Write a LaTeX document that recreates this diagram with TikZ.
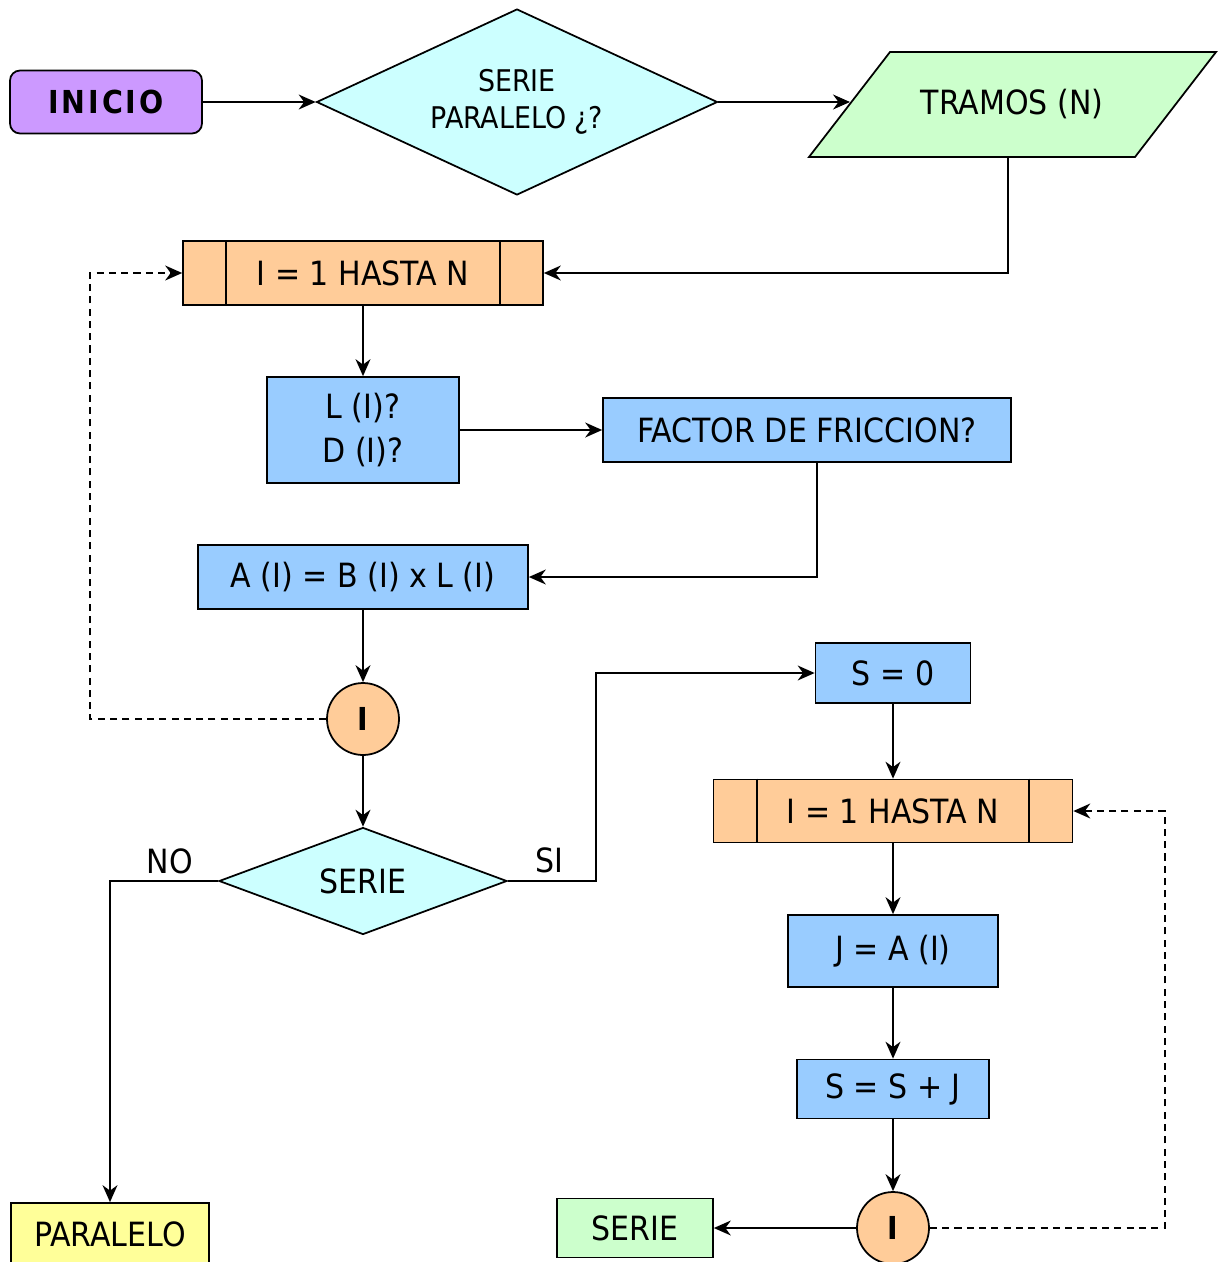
\documentclass[tikz,border=0pt]{standalone}
\usepackage{fontspec}
\setmainfont{DejaVu Sans Condensed}
\usetikzlibrary{arrows.meta,shapes.geometric}

\definecolor{lila}{HTML}{CC99FF}
\definecolor{celeste}{HTML}{CCFFFF}
\definecolor{verde}{HTML}{CCFFCC}
\definecolor{naranja}{HTML}{FFCC99}
\definecolor{azul}{HTML}{99CCFF}
\definecolor{amarillo}{HTML}{FFFF99}

\tikzset{
    base/.style={draw, line width=1pt, inner sep=0pt, font=\fontsize{19}{23}\selectfont},
    caja/.style={base, rectangle, fill=azul, align=center},
    lazo/.style={base, rectangle, fill=naranja},
    decision/.style={base, diamond, aspect=2.2, fill=celeste, align=center},
    conector/.style={base, circle, fill=naranja, minimum size=1.44cm, font=\fontsize{18}{22}\selectfont\bfseries},
    flecha/.style={line width=0.8pt, -{Stealth[length=3.4mm,width=3mm,inset=1.1mm]}},
    punteada/.style={flecha, dashed, dash pattern=on 4pt off 3pt},
    etiqueta/.style={font=\fontsize{19}{23}\selectfont}
}

\begin{document}
\begin{tikzpicture}[x=0.02cm,y=-0.02cm]
    \useasboundingbox (0,0) rectangle (1219,1262);

    %% Entrada
    \node[base, rounded corners=2mm, fill=lila, minimum width=3.84cm, minimum height=1.26cm,
          font=\fontsize{18}{22}\selectfont\bfseries\addfontfeature{LetterSpace=9}]
        (inicio) at (106,102) {INICIO};
    \node[decision, minimum width=8.02cm, minimum height=3.72cm, font=\fontsize{17}{21}\selectfont]
        (tipo) at (517,102) {SERIE\\PARALELO ¿?};
    %% dato de entrada (paralelogramo)
    \draw[line width=1pt, fill=verde]
    (809,157) to (890,52) to (1216,52) to (1135,157) -- cycle
    ;
    \node[font=\fontsize{19}{23}\selectfont, minimum height=2.1cm] (tramos) at (1012,104) {TRAMOS (N)};
    \coordinate (tramosw) at (850,102);

    %% Primer lazo
    \node[lazo, minimum width=7.2cm, minimum height=1.28cm] (lazo1) at (363,273) {I = 1 HASTA N};
    \node[caja, minimum width=3.84cm, minimum height=2.12cm] (datos) at (363,430) {L (I)?\\[2pt]D (I)?};
    \node[caja, minimum width=8.16cm, minimum height=1.28cm] (friccion) at (807,430) {FACTOR DE FRICCION?};
    \node[caja, minimum width=6.6cm, minimum height=1.28cm] (area) at (363,577) {A (I) = B (I) x L (I)};
    \node[conector] (fin1) at (363,719) {I};
    \node[decision, minimum width=5.76cm, minimum height=2.14cm] (serie) at (363,881) {SERIE};

    %% Segundo lazo
    \node[caja, minimum width=3.1cm, minimum height=1.2cm] (suma0) at (893,673) {S = 0};
    \node[lazo, minimum width=7.18cm, minimum height=1.26cm] (lazo2) at (893,811) {I = 1 HASTA N};
    \node[caja, minimum width=4.2cm, minimum height=1.44cm] (jota) at (893,951) {J = A (I)};
    \node[caja, minimum width=3.84cm, minimum height=1.18cm] (suma) at (893,1089) {S = S + J};
    \node[conector] (fin2) at (893,1228) {I};

    %% Salidas
    \node[base, fill=verde, minimum width=3.12cm, minimum height=1.18cm] (resserie) at (635,1228) {SERIE};
    \node[base, fill=amarillo, minimum width=3.96cm, minimum height=1.24cm] (resparalelo) at (110,1234) {PARALELO};

    %% marcas de los lazos
    \foreach \l in {lazo1,lazo2}
    {
    \draw[line width=1pt]
    ([xshift=0.88cm]\l.north west) to ([xshift=0.88cm]\l.south west)
    ([xshift=-0.88cm]\l.north east) to ([xshift=-0.88cm]\l.south east)
    ;
    }

    \coordinate (ret1) at (90,0);
    \coordinate (desvio) at (596,0);
    \coordinate (ret2) at (1165,0);

    %% Conexiones
    \draw[flecha] (inicio.east) to (tipo.west);
    \draw[flecha] (tipo.east) to (tramosw);
    \draw[flecha] ([xshift=-0.08cm]tramos.south) |- (lazo1.east);
    \draw[flecha] (lazo1) to (datos);
    \draw[flecha] (datos) to (friccion);
    \draw[flecha] ([xshift=0.2cm]friccion.south) |- (area.east);
    \draw[flecha] (area) to (fin1);
    \draw[punteada] (fin1.west) to (fin1.west -| ret1) |- (lazo1.west);
    \draw[flecha] (fin1) to (serie);
    \draw[flecha] (serie.west) -| (resparalelo.north);
    \draw[flecha] (serie.east) to (serie.east -| desvio) |- (suma0.west);
    \draw[flecha] (suma0) to (lazo2);
    \draw[flecha] (lazo2) to (jota);
    \draw[flecha] (jota) to (suma);
    \draw[flecha] (suma) to (fin2);
    \draw[flecha] (fin2) to (resserie);
    \draw[punteada] (fin2.east) to (fin2.east -| ret2) |- (lazo2.east);

    \node[etiqueta] (no) at (170,861) {NO};
    \node[etiqueta] (si) at (549,860) {SI};
\end{tikzpicture}
\end{document}
